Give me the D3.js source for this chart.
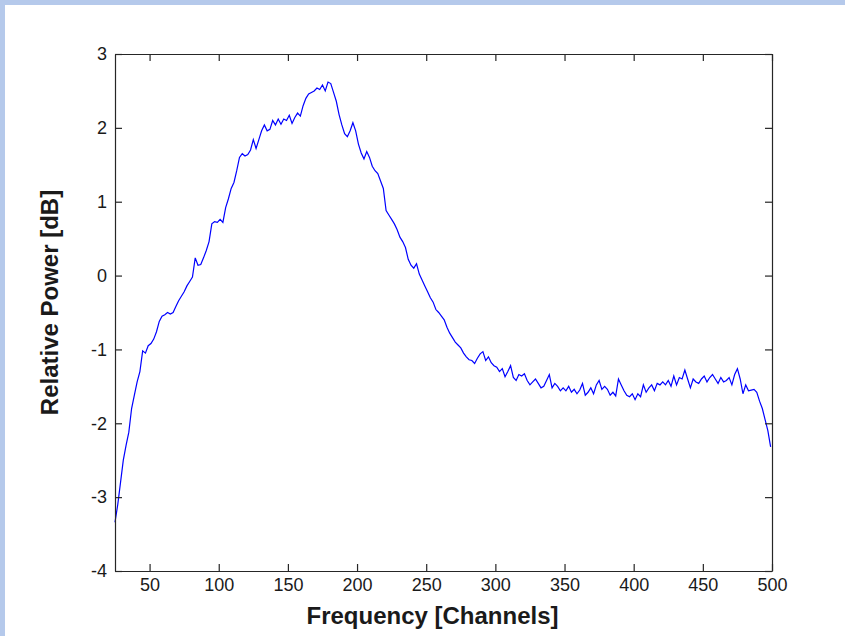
<!DOCTYPE html>
<html>
<head>
<meta charset="utf-8">
<script src="https://cdnjs.cloudflare.com/ajax/libs/d3/7.8.5/d3.min.js"></script>
<style>
  body { margin: 0; background: #ffffff; }
  .tickText { font-family: "Liberation Sans", Arial, sans-serif; font-size: 18px; fill: #1a1a1a; }
  .aText { font-family: "Liberation Sans", Arial, sans-serif; font-size: 24px; font-weight: bold; fill: #1a1a1a; }
</style>
</head>
<body>
<div id="chart"></div>
<script>
// Channels every 2 channels from 25 to 499
var channels = d3.range(25, 501, 2);

// Relative power [dB]
var power = [
  -3.34, -3.10, -2.80, -2.50, -2.30, -2.12, -1.80, -1.62, -1.44, -1.30,
  -1.02, -1.05, -0.95, -0.92, -0.86, -0.76, -0.62, -0.55, -0.53, -0.50,
  -0.52, -0.50, -0.42, -0.34, -0.28, -0.22, -0.14, -0.08, -0.02, 0.24,
  0.14, 0.15, 0.24, 0.34, 0.46, 0.70, 0.73, 0.72, 0.76, 0.72,
  0.92, 1.04, 1.18, 1.26, 1.42, 1.60, 1.65, 1.62, 1.64, 1.70,
  1.84, 1.72, 1.84, 1.96, 2.04, 1.96, 1.98, 2.10, 2.04, 2.12,
  2.05, 2.12, 2.10, 2.17, 2.06, 2.14, 2.20, 2.16, 2.30, 2.40,
  2.46, 2.48, 2.50, 2.54, 2.52, 2.58, 2.50, 2.62, 2.60, 2.48,
  2.36, 2.18, 2.04, 1.92, 1.88, 1.96, 2.07, 1.96, 1.78, 1.66,
  1.58, 1.68, 1.60, 1.48, 1.42, 1.38, 1.28, 1.18, 0.88, 0.82,
  0.76, 0.70, 0.62, 0.52, 0.46, 0.38, 0.22, 0.14, 0.10, 0.16,
  0.02, -0.06, -0.14, -0.22, -0.30, -0.36, -0.46, -0.50, -0.55, -0.60,
  -0.70, -0.78, -0.84, -0.90, -0.94, -0.98, -1.05, -1.10, -1.14, -1.15,
  -1.19, -1.12, -1.06, -1.03, -1.15, -1.10, -1.18, -1.22, -1.24, -1.30,
  -1.26, -1.37, -1.30, -1.22, -1.38, -1.42, -1.34, -1.36, -1.33, -1.42,
  -1.48, -1.44, -1.40, -1.46, -1.52, -1.50, -1.42, -1.34, -1.52, -1.46,
  -1.50, -1.56, -1.52, -1.56, -1.50, -1.58, -1.54, -1.60, -1.55, -1.46,
  -1.62, -1.58, -1.52, -1.60, -1.48, -1.42, -1.54, -1.50, -1.54, -1.62,
  -1.58, -1.63, -1.40, -1.48, -1.56, -1.62, -1.64, -1.60, -1.68, -1.60,
  -1.64, -1.48, -1.58, -1.52, -1.48, -1.56, -1.46, -1.48, -1.44, -1.48,
  -1.42, -1.50, -1.36, -1.48, -1.38, -1.40, -1.28, -1.40, -1.52, -1.40,
  -1.44, -1.46, -1.40, -1.36, -1.44, -1.38, -1.34, -1.40, -1.46, -1.38,
  -1.44, -1.42, -1.38, -1.48, -1.34, -1.26, -1.40, -1.60, -1.48, -1.56,
  -1.55, -1.54, -1.58, -1.70, -1.80, -1.95, -2.10, -2.32
];

// Tick values
var xTicks = [50, 100, 150, 200, 250, 300, 350, 400, 450, 500];
var yTicks = [-4, -3, -2, -1, 0, 1, 2, 3];

var svgWidth = 845;
var svgHeight = 636;

var margin = { top: 54, right: 73, bottom: 65, left: 115 };
var width = svgWidth - margin.left - margin.right;
var height = svgHeight - margin.top - margin.bottom;

var svg = d3.select("#chart")
  .append("svg")
  .attr("width", svgWidth)
  .attr("height", svgHeight);

// window frame strips (top and left)
svg.append("rect").attr("x", 0).attr("y", 0).attr("width", svgWidth).attr("height", 5).attr("fill", "#b5c9eb");
svg.append("rect").attr("x", 0).attr("y", 0).attr("width", 5).attr("height", svgHeight).attr("fill", "#b5c9eb");

var chartGroup = svg.append("g")
  .attr("transform", `translate(${margin.left}, ${margin.top})`);

// scales
var xScale = d3.scaleLinear().domain([25, 500]).range([0, width]);
var yScale = d3.scaleLinear().domain([-4, 3]).range([height, 0]);

// the line
var data = channels.map((c, i) => ({ ch: c, p: power[i] }));
var line = d3.line().x(d => xScale(d.ch)).y(d => yScale(d.p));

chartGroup.append("path")
  .datum(data)
  .attr("fill", "none")
  .attr("stroke", "#0000ff")
  .attr("stroke-width", 1.2)
  .attr("d", line);

// axes, ticks pointing inward like matlab
var plainFmt = d => String(d);
var bottomAxis = d3.axisBottom(xScale).tickValues(xTicks).tickSizeInner(-7).tickSizeOuter(0).tickPadding(7).tickFormat(plainFmt);
var leftAxis = d3.axisLeft(yScale).tickValues(yTicks).tickSizeInner(-7).tickSizeOuter(0).tickPadding(8).tickFormat(plainFmt);
var topAxis = d3.axisTop(xScale).tickValues(xTicks).tickSizeInner(-7).tickSizeOuter(0).tickFormat("");
var rightAxis = d3.axisRight(yScale).tickValues(yTicks).tickSizeInner(-7).tickSizeOuter(0).tickFormat("");

var gb = chartGroup.append("g").attr("transform", `translate(0, ${height})`).call(bottomAxis);
var gl = chartGroup.append("g").call(leftAxis);
var gt = chartGroup.append("g").call(topAxis);
var gr = chartGroup.append("g").attr("transform", `translate(${width}, 0)`).call(rightAxis);

[gb, gl, gt, gr].forEach(function(g) {
  g.selectAll("path, line").attr("stroke", "#262626").attr("stroke-width", 1.2);
  g.selectAll("text").attr("class", "tickText").attr("font-size", null).attr("font-family", null);
});

// x label
chartGroup.append("text")
  .attr("x", width / 2 - 11)
  .attr("y", height + 53)
  .attr("text-anchor", "middle")
  .classed("aText", true)
  .text("Frequency [Channels]");

// y label
chartGroup.append("text")
  .attr("transform", "rotate(-90)")
  .attr("x", -(height / 2) + 10)
  .attr("y", -57)
  .attr("text-anchor", "middle")
  .classed("aText", true)
  .text("Relative Power [dB]");
</script>
</body>
</html>
